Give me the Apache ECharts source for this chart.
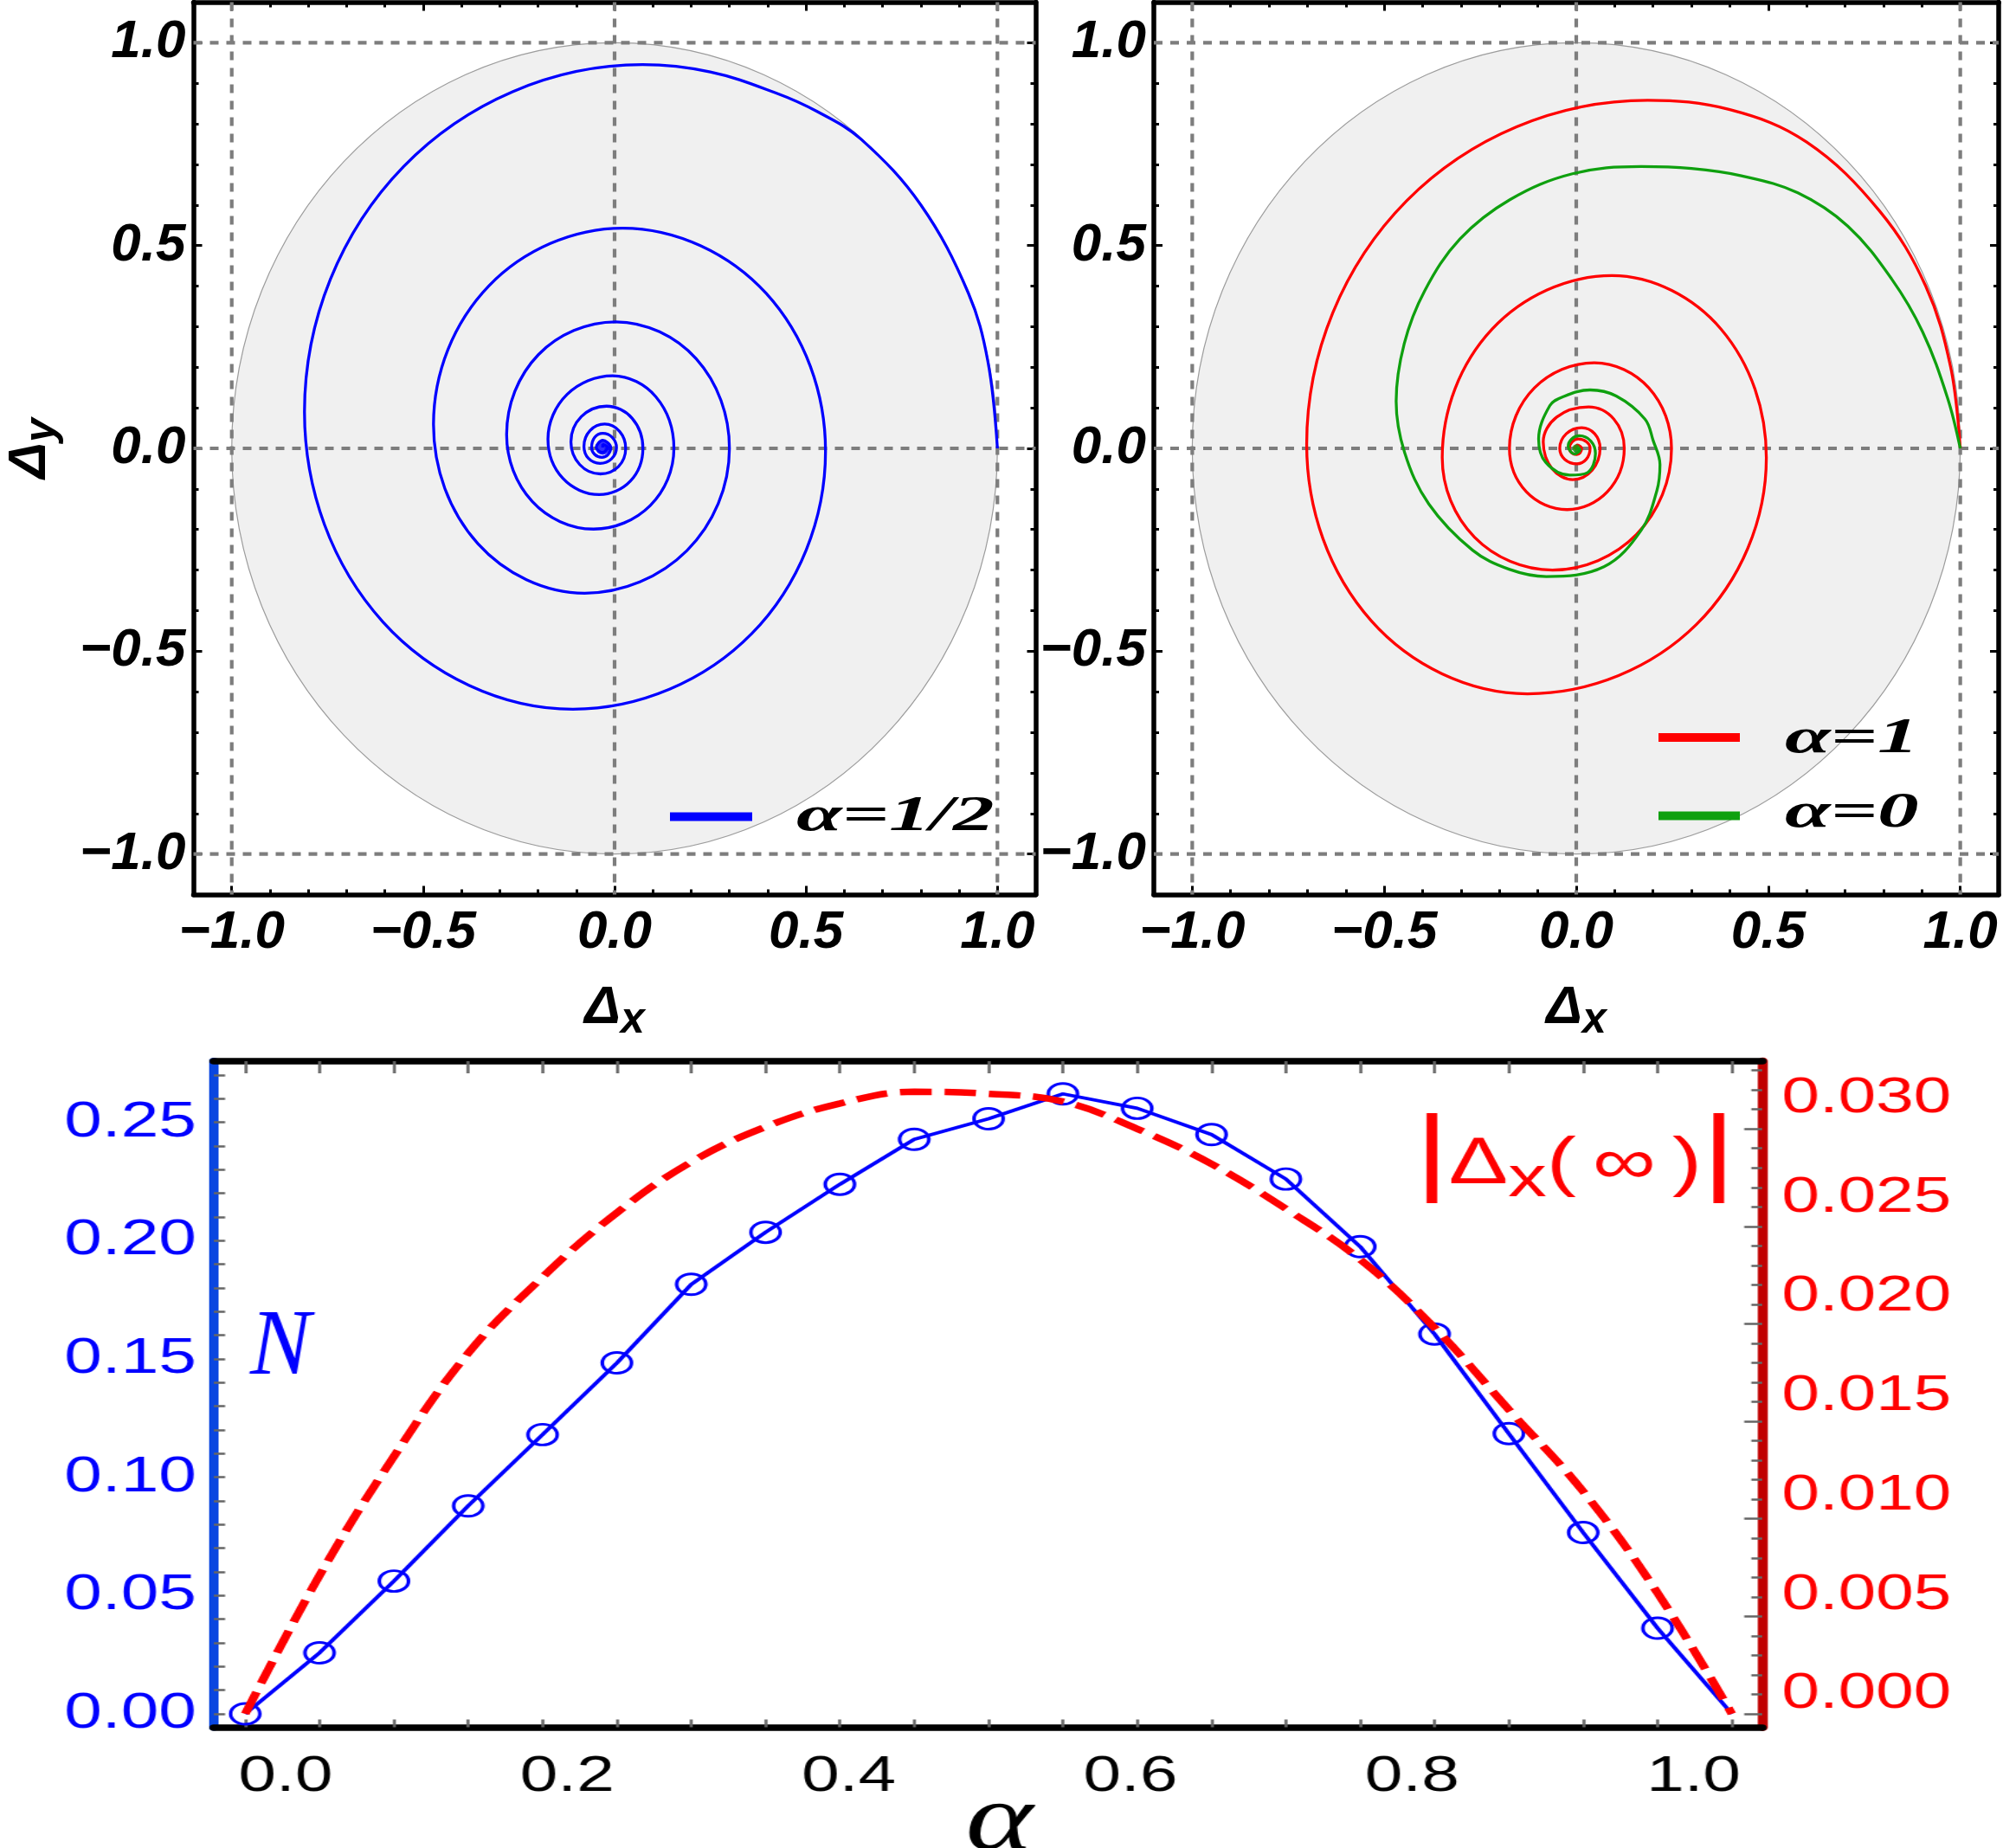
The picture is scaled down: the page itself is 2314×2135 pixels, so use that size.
<!DOCTYPE html>
<html>
<head>
<meta charset="utf-8">
<title>spirals and negativity</title>
<script src="https://cdn.jsdelivr.net/npm/echarts@6.0.0/dist/echarts.min.js"></script>
<style>
  html, body { margin: 0; padding: 0; background: #fff; }
  #spirals { position: absolute; left: 0; top: 0; width: 2314px; height: 1205px; }
  /* the lower panel of the original is stretched sideways */
  #alphaPlot { position: absolute; left: 0; top: 1205px; width: 1715px; height: 930px;
               transform: scaleX(1.35); transform-origin: 0 0; }
</style>
</head>
<body>
<div id="spirals"></div>
<div id="alphaPlot"></div>
<script>
// ---------- upper panels: trajectories in the (Δx, Δy) plane ----------
var guideValues = [-1, 0, 1];
var majorTicks = [-1, -0.5, 0, 0.5, 1];
var unitDisk = [[0, 0, 1]];          // centre x, centre y, radius

// alpha = 1/2
var spiralHalf = [
  [1.0, 0.0], [0.975, 0.215], [0.924, 0.383], [0.80, 0.60], [0.644, 0.762],
  [0.53, 0.83], [0.419, 0.877], [0.25, 0.928], [0.073, 0.946],
  [-0.551, 0.695], [-0.81, 0.09], [-0.605, -0.428], [-0.109, -0.643],
  [0.358, -0.457], [0.551, -0.007], [0.396, 0.382], [0.021, 0.543],
  [-0.328, 0.401], [-0.473, 0.059], [-0.357, -0.235], [-0.078, -0.357],
  [0.189, -0.252], [0.300, 0.0], [0.213, 0.221], [0.003, 0.312],
  [-0.199, 0.231], [-0.282, 0.034], [-0.215, -0.131], [-0.055, -0.199],
  [0.093, -0.141], [0.155, 0.0], [0.108, 0.127], [-0.005, 0.179],
  [-0.124, 0.133], [-0.174, 0.023], [-0.135, -0.074], [-0.040, -0.114],
  [0.041, -0.081], [0.074, 0.0], [0.046, 0.074], [-0.021, 0.104],
  [-0.087, 0.078], [-0.114, 0.016], [-0.091, -0.040], [-0.037, -0.063],
  [0.010, -0.045], [0.029, 0.0], [0.013, 0.042], [-0.026, 0.060],
  [-0.064, 0.044], [-0.080, 0.005], [-0.068, -0.025], [-0.038, -0.037],
  [-0.008, -0.026], [0.005, 0.002], [-0.006, 0.027], [-0.031, 0.037],
  [-0.052, 0.027], [-0.060, 0.002], [-0.052, -0.015], [-0.033, -0.022],
  [-0.017, -0.015], [-0.010, 0.002], [-0.031, 0.020], [-0.048, 0.002],
  [-0.032, -0.010], [-0.018, 0.002], [-0.031, 0.010], [-0.031, 0.002]
];
// alpha = 1
var spiralOne = [
  [1.0, 0.0], [0.975, 0.20], [0.91, 0.40], [0.79, 0.585], [0.60, 0.755],
  [0.40, 0.835], [0.186, 0.858],
  [-0.442, 0.610], [-0.702, 0.01], [-0.534, -0.425], [-0.127, -0.605],
  [0.313, -0.434], [0.495, -0.023], [0.377, 0.294], [0.093, 0.426],
  [-0.219, 0.294], [-0.349, -0.023], [-0.265, -0.219], [-0.062, -0.300],
  [0.157, -0.212], [0.248, 0.0], [0.189, 0.149], [0.047, 0.211],
  [-0.109, 0.149], [-0.174, 0.0], [-0.130, -0.107], [-0.024, -0.151],
  [0.081, -0.107], [0.125, 0.0], [0.098, 0.072], [0.032, 0.102],
  [-0.051, 0.077], [-0.086, 0.016], [-0.063, -0.050], [-0.009, -0.077],
  [0.041, -0.054], [0.062, 0.0], [0.048, 0.036], [0.014, 0.051],
  [-0.026, 0.036], [-0.043, 0.0], [-0.030, -0.027], [0.002, -0.038],
  [0.026, -0.027], [0.036, 0.0], [0.027, 0.016], [0.005, 0.023],
  [-0.011, 0.016], [-0.018, 0.0], [-0.012, -0.011], [0.001, -0.015],
  [0.010, -0.011], [0.014, 0.0], [0.003, 0.008], [-0.005, 0.0], [0.002, 0.0]
];
// alpha = 0
var spiralZero = [
  [1.0, 0.0], [0.967, 0.124], [0.902, 0.287], [0.821, 0.418], [0.707, 0.548],
  [0.577, 0.630], [0.430, 0.672], [0.300, 0.690], [0.169, 0.695],
  [-0.010, 0.677], [-0.173, 0.613], [-0.303, 0.516], [-0.395, 0.388],
  [-0.448, 0.258], [-0.469, 0.116], [-0.447, -0.010], [-0.384, -0.137],
  [-0.270, -0.251], [-0.175, -0.298], [-0.078, -0.316], [0.072, -0.292],
  [0.169, -0.202], [0.210, -0.104], [0.218, -0.040], [0.200, 0.020],
  [0.179, 0.072], [0.104, 0.129], [0.036, 0.144], [-0.035, 0.127],
  [-0.069, 0.105], [-0.098, 0.023], [-0.080, -0.034], [-0.017, -0.066],
  [0.029, -0.060], [0.050, -0.013], [0.038, 0.018], [0.008, 0.031],
  [-0.012, 0.023], [-0.021, 0.005], [-0.004, -0.014], [0.010, -0.003], [0.0, 0.0]
];

// ---------- lower panel ----------
var alphaValues = [0, 0.05, 0.1, 0.15, 0.2, 0.25, 0.3, 0.35, 0.4, 0.45, 0.5,
                   0.55, 0.6, 0.65, 0.7, 0.75, 0.8, 0.85, 0.9, 0.95, 1];
var negativity = [0, 0.0258, 0.0561, 0.0879, 0.1180, 0.1483, 0.1815, 0.2035, 0.2238, 0.2428, 0.2515,
                  0.2620, 0.2559, 0.2448, 0.2260, 0.1974, 0.1605, 0.1184, 0.0766, 0.0362, 0];
var deltaInf = [0, 0.0071, 0.0132, 0.0185, 0.0224, 0.0257, 0.0283, 0.0301, 0.0313, 0.0319, 0.0318,
                0.0314, 0.0300, 0.0282, 0.0259, 0.0233, 0.0198, 0.0156, 0.0114, 0.0062, 0];
var alphaLabels = [0, 0.2, 0.4, 0.6, 0.8, 1];
var negLabels = [0, 0.05, 0.1, 0.15, 0.2, 0.25];
var deltaLabels = [0, 0.005, 0.01, 0.015, 0.02, 0.025, 0.03];

var sans = '"Liberation Sans", Arial, sans-serif';
var serif = '"Liberation Serif", "Times New Roman", serif';

function steps(from, to, step) {
    var out = [];
    for (var i = 0; from + i * step <= to + step / 2; i++) {
        out.push(+(from + i * step).toFixed(4));
    }
    return out;
}

function signed(v) {
    return (v < 0 ? '\u2212' : '') + Math.abs(v).toFixed(1);
}

// frame side of a spiral panel; major == true gives the longer ticks only
function frameAxis(g, pos, major, extra) {
    var axis = {
        type: 'value', gridIndex: g, position: pos,
        min: -1.1, max: 1.1, interval: 0.1,
        axisLine: { show: !major, onZero: false, lineStyle: { color: '#000', width: 5.5 } },
        axisTick: { show: true, inside: true, length: major ? 10 : 6,
                    lineStyle: { color: '#000', width: 3 } },
        axisLabel: { show: false },
        splitLine: { show: false }
    };
    if (major) axis.axisTick.customValues = majorTicks;
    for (var k in extra) axis[k] = extra[k];
    return axis;
}

var tickFont = {
    show: true, customValues: majorTicks, formatter: signed, color: '#000',
    fontFamily: sans, fontSize: 62, fontStyle: 'italic', fontWeight: 'bold'
};
var deltaRich = {
    d: { fontFamily: sans, fontSize: 62, fontStyle: 'italic', fontWeight: 'bold', color: '#000', verticalAlign: 'middle' },
    s: { fontFamily: sans, fontSize: 50, fontStyle: 'italic', fontWeight: 'bold', color: '#000', verticalAlign: 'middle',
         padding: [29, 0, 0, 0] }
};

function xAxesFor(g) {
    return [
        frameAxis(g, 'bottom', false, {
            axisLabel: Object.assign({ margin: 13 }, tickFont),
            name: '{d|Δ}{s|x}', nameLocation: 'middle', nameGap: 92,
            nameTextStyle: { rich: deltaRich }
        }),
        frameAxis(g, 'bottom', true),
        frameAxis(g, 'top', false),
        frameAxis(g, 'top', true)
    ];
}

function yAxesFor(g, withName) {
    var first = { axisLabel: Object.assign({ margin: 9 }, tickFont) };
    if (withName) {
        first.name = '{d|Δ}{s|y}';
        first.nameLocation = 'middle';
        first.nameGap = 149;
        first.nameRotate = 90;
        first.nameTextStyle = { rich: deltaRich };
    }
    return [
        frameAxis(g, 'left', false, first),
        frameAxis(g, 'left', true),
        frameAxis(g, 'right', false),
        frameAxis(g, 'right', true)
    ];
}

function renderDisk(params, api) {
    var c = api.coord([api.value(0), api.value(1)]);
    var s = api.size([api.value(2), api.value(2)]);
    return {
        type: 'ellipse',
        shape: { cx: c[0], cy: c[1], rx: s[0], ry: s[1] },
        style: { fill: '#f0f0f0', stroke: '#9c9c9c', lineWidth: 1.2 }
    };
}

function renderGuide(params, api) {
    var cs = params.coordSys;
    var p = api.coord([api.value(0), api.value(1)]);
    var shape = api.value(2) === 0
        ? { x1: p[0], y1: cs.y, x2: p[0], y2: cs.y + cs.height }
        : { x1: cs.x, y1: p[1], x2: cs.x + cs.width, y2: p[1] };
    return { type: 'line', shape: shape,
             style: { stroke: '#7d7d7d', lineWidth: 4.2, lineDash: [10, 9] } };
}

var guideData = guideValues.map(function (v) { return [v, 0, 0]; })
    .concat(guideValues.map(function (v) { return [0, v, 1]; }));

function panelBack(xi, yi) {
    return [
        { type: 'custom', xAxisIndex: xi, yAxisIndex: yi, data: unitDisk, encode: { x: 0, y: 1 },
          renderItem: renderDisk, silent: true, z: 1 },
        { type: 'custom', xAxisIndex: xi, yAxisIndex: yi, data: guideData, encode: { x: 0, y: 1 },
          renderItem: renderGuide, silent: true, z: 2 }
    ];
}

function spiral(name, data, color, xi, yi, z) {
    return {
        type: 'line', name: name, xAxisIndex: xi, yAxisIndex: yi, data: data,
        smooth: 0.37, symbol: 'none', silent: true,
        lineStyle: { color: color, width: 3.3 }, itemStyle: { color: color }, z: z
    };
}

// the innermost turns close up into a small dot
function endDot(data, color, size, xi, yi, z) {
    return {
        type: 'scatter', xAxisIndex: xi, yAxisIndex: yi, data: [data[data.length - 1]],
        symbolSize: size, itemStyle: { color: color }, silent: true, z: z
    };
}

var legendFont = 'italic bold 56px "Liberation Serif", serif';
function legendText(x, y, text) {
    return { type: 'text', x: x, y: y, scaleX: 1.7, z: 10,
             style: { text: text, font: legendFont, fill: '#000',
                      align: 'left', verticalAlign: 'middle', textAlign: 'left', textVerticalAlign: 'middle' } };
}

var spiralChart = echarts.init(document.getElementById('spirals'));
var option = {
    animation: false,
    backgroundColor: '#fff',
    textStyle: { fontFamily: sans },
    grid: [
        { left: 223.5, top: 2.5, width: 973, height: 1031, outerBoundsMode: 'none', containLabel: false },
        { left: 1333, top: 2.5, width: 976, height: 1031, outerBoundsMode: 'none', containLabel: false }
    ],
    xAxis: xAxesFor(0).concat(xAxesFor(1)),
    yAxis: yAxesFor(0, true).concat(yAxesFor(1, false)),
    graphic: [
        { type: 'rect', z: 10, shape: { x: 774, y: 938.5, width: 95, height: 10 }, style: { fill: '#0000ff' } },
        legendText(920, 945, 'α=1/2'),
        { type: 'rect', z: 10, shape: { x: 1916, y: 847, width: 94, height: 10 }, style: { fill: '#ff0000' } },
        legendText(2062, 855, 'α=1'),
        { type: 'rect', z: 10, shape: { x: 1916, y: 937.5, width: 94, height: 10 }, style: { fill: '#0fa00f' } },
        legendText(2062, 941, 'α=0')
    ],
    series: panelBack(0, 0)
        .concat([spiral('α=1/2', spiralHalf, '#0000ff', 0, 0, 3),
                 endDot(spiralHalf, '#0000ff', 17, 0, 0, 3)])
        .concat(panelBack(4, 4))
        .concat([spiral('α=1', spiralOne, '#ff0000', 4, 4, 3),
                 spiral('α=0', spiralZero, '#0fa00f', 4, 4, 4),
                 endDot(spiralZero, '#0fa00f', 9, 4, 4, 4)])
};
spiralChart.setOption(option);

// ---------- lower panel: N and |Δx(∞)| against α ----------
var alphaChart = echarts.init(document.getElementById('alphaPlot'));
var grayTick = { color: '#666', width: 2.5 };
var centred = { align: 'center', verticalAlign: 'middle', textAlign: 'center', textVerticalAlign: 'middle' };
var option2 = {
    animation: false,
    backgroundColor: '#fff',
    textStyle: { fontFamily: sans },
    grid: { left: 183, top: 21, width: 1325, height: 769.5, outerBoundsMode: 'none', containLabel: false },
    xAxis: [
        { type: 'value', position: 'bottom', min: -0.0211, max: 1.0204,
          axisLine: { show: true, onZero: false, lineStyle: { color: '#000', width: 7.5 } },
          axisTick: { show: true, inside: true, length: 9, customValues: alphaValues, lineStyle: grayTick },
          axisLabel: { show: false }, splitLine: { show: false } },
        { type: 'value', position: 'top', min: -0.0211, max: 1.0204,
          axisLine: { show: true, onZero: false, lineStyle: { color: '#000', width: 7.5 } },
          axisTick: { show: true, inside: true, length: 14, customValues: alphaValues, lineStyle: grayTick },
          axisLabel: { show: false }, splitLine: { show: false } },
        { type: 'value', position: 'bottom', min: -0.0509, max: 1.0487,
          axisLine: { show: false, onZero: false }, axisTick: { show: false }, splitLine: { show: false },
          axisLabel: { show: true, customValues: alphaLabels, margin: 28, color: '#000', fontSize: 58,
                       fontFamily: sans, formatter: function (v) { return v.toFixed(1); } } }
    ],
    yAxis: [
        { type: 'value', position: 'left', min: -0.00567, max: 0.2758,
          axisLine: { show: true, onZero: false, lineStyle: { color: '#0a46e0', width: 8 } },
          axisTick: { show: true, inside: true, length: 9.6, customValues: steps(0, 0.27, 0.01), lineStyle: grayTick },
          axisLabel: { show: true, customValues: negLabels, margin: 15, color: '#0000ff', fontSize: 58,
                       fontFamily: sans, formatter: function (v) { return v.toFixed(2); } },
          splitLine: { show: false } },
        { type: 'value', position: 'right', min: -0.000688, max: 0.03347,
          axisLine: { show: true, onZero: false, lineStyle: { color: '#c00000', width: 8.5 } },
          axisTick: { show: true, inside: true, length: 9.3, customValues: steps(0, 0.033, 0.001), lineStyle: grayTick },
          axisLabel: { show: false }, splitLine: { show: false } },
        { type: 'value', position: 'right', min: -0.000688, max: 0.03347,
          axisLine: { show: false, onZero: false },
          axisTick: { show: true, inside: true, length: 15.4, customValues: deltaLabels, lineStyle: grayTick },
          axisLabel: { show: false }, splitLine: { show: false } },
        { type: 'value', position: 'right', min: -0.001656, max: 0.03187,
          axisLine: { show: false, onZero: false }, axisTick: { show: false }, splitLine: { show: false },
          axisLabel: { show: true, customValues: deltaLabels, margin: 16.7, color: '#ff0000', fontSize: 58,
                       fontFamily: sans, formatter: function (v) { return v.toFixed(3); } } }
    ],
    graphic: [
        // axis title under the α ticks
        { type: 'text', x: 855, y: 902, z: 10,
          style: Object.assign({ text: 'α', font: 'italic 110px "Liberation Serif", serif', fill: '#000' }, centred) },
        { type: 'text', x: 240, y: 354, scaleX: 0.72, z: 10,
          style: Object.assign({ text: 'N', font: 'italic 108px "Liberation Serif", serif', fill: '#0000ff' }, centred) },
        { type: 'text', x: 1348, y: 141, z: 10,
          style: Object.assign({
              text: '{b||}{t|Δ}{s|x}{t|(}{i|∞}{t|)}{b||}',
              rich: {
                  b: { fontFamily: sans, fontSize: 112, fill: '#ff0000', verticalAlign: 'middle', padding: [0, 0, 20, 0] },
                  t: { fontFamily: sans, fontSize: 76, fill: '#ff0000', verticalAlign: 'middle' },
                  s: { fontFamily: sans, fontSize: 66, fill: '#ff0000', verticalAlign: 'middle', padding: [35, 0, 0, 0] },
                  i: { fontFamily: sans, fontSize: 76, fill: '#ff0000', verticalAlign: 'middle', padding: [0, 14, 0, 14] }
              }
          }, centred) }
    ],
    series: [
        {
            type: 'line', name: 'N', xAxisIndex: 0, yAxisIndex: 0,
            data: alphaValues.map(function (a, i) { return [a, negativity[i]]; }),
            symbol: function (v, p) { return p.dataIndex < alphaValues.length - 1 ? 'circle' : 'none'; },
            symbolSize: [25, 24],
            lineStyle: { color: '#0000ff', width: 3.8 },
            itemStyle: { color: 'rgba(0,0,0,0)', borderColor: '#0000ff', borderWidth: 3 },
            z: 3
        },
        {
            type: 'line', name: '|Δx(∞)|', xAxisIndex: 0, yAxisIndex: 1,
            data: alphaValues.map(function (a, i) { return [a, deltaInf[i]]; }),
            smooth: 0.4, symbol: 'none',
            lineStyle: { color: '#ff0000', width: 7.5, type: [27, 11] },
            z: 4
        }
    ]
};
alphaChart.setOption(option2);
</script>
</body>
</html>
